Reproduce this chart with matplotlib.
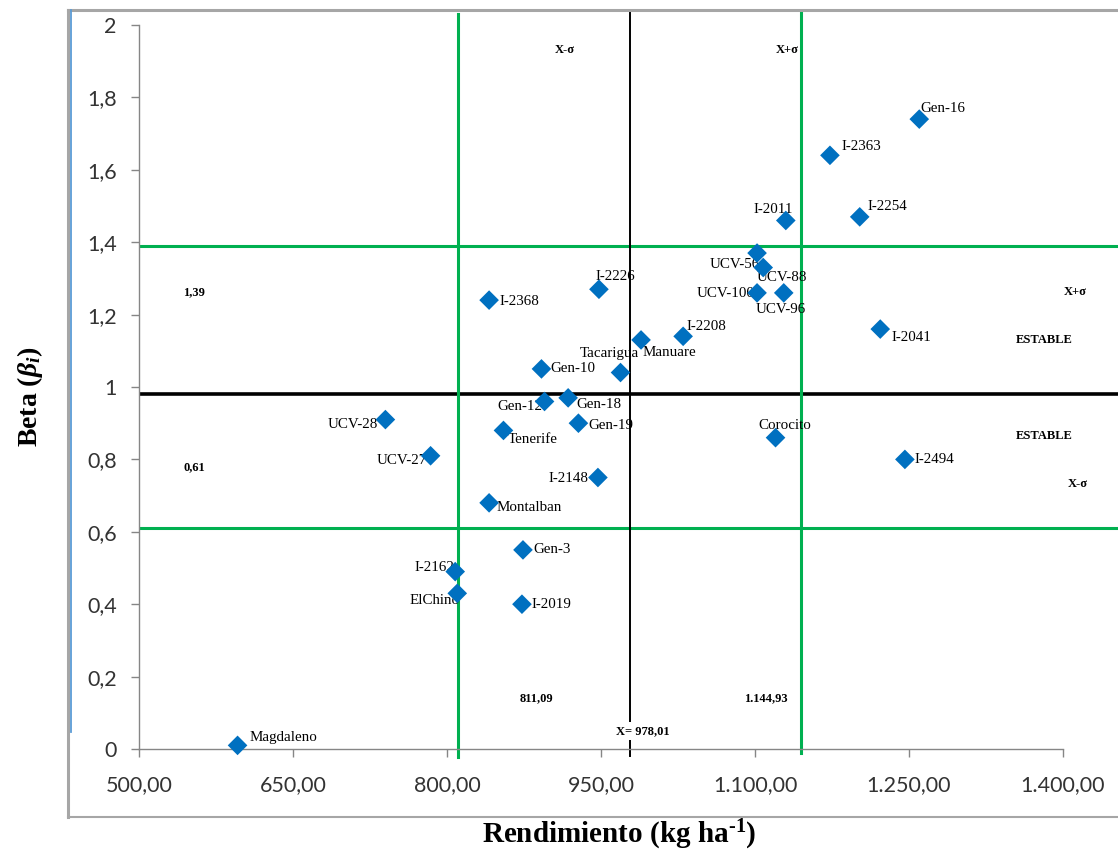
import numpy as np
import matplotlib
matplotlib.use('Agg')
import matplotlib.pyplot as plt
from matplotlib.lines import Line2D

# genotipos: rendimiento medio (kg/ha) y coeficiente de regresion beta
genotipos = ['Magdaleno', 'I-2162', 'ElChino', 'I-2019', 'Gen-3', 'Montalban',
             'UCV-27', 'UCV-28', 'Tenerife', 'Gen-12', 'Gen-18', 'Gen-19',
             'I-2148', 'Gen-10', 'Tacarigua', 'Manuare', 'I-2208', 'I-2226',
             'I-2368', 'UCV-56', 'UCV-88', 'UCV-100', 'UCV-96', 'I-2011',
             'I-2363', 'I-2254', 'Gen-16', 'I-2041', 'Corocito', 'I-2494']
rendimiento = [596, 808, 810, 873, 874, 841,
               784, 740, 855, 895, 918, 928,
               947, 892, 969, 989, 1030, 948,
               841, 1102, 1108, 1102, 1128, 1130,
               1173, 1202, 1260, 1222, 1120, 1246]
beta = [0.01, 0.49, 0.43, 0.40, 0.55, 0.68,
        0.81, 0.91, 0.88, 0.96, 0.97, 0.90,
        0.75, 1.05, 1.04, 1.13, 1.14, 1.27,
        1.24, 1.37, 1.33, 1.26, 1.26, 1.46,
        1.64, 1.47, 1.74, 1.16, 0.86, 0.80]

# limites de los cuadrantes
x_media = 978.01
x_menos_sd = 811.09
x_mas_sd = 1144.93
beta_media = 0.98
beta_sup = 1.39
beta_inf = 0.61

xticks = [500, 650, 800, 950, 1100, 1250, 1400]
xtick_labels = ['500,00', '650,00', '800,00', '950,00', '1.100,00', '1.250,00', '1.400,00']
yticks = [0, 0.2, 0.4, 0.6, 0.8, 1.0, 1.2, 1.4, 1.6, 1.8, 2.0]
ytick_labels = ['0', '0,2', '0,4', '0,6', '0,8', '1', '1,2', '1,4', '1,6', '1,8', '2']

# desplazamiento de cada etiqueta (pixeles) y alineacion
pos_etiqueta = {
    'Gen-16': (1, 11, 'left'), 'I-2363': (12, 9, 'left'), 'I-2254': (8, 10, 'left'),
    'I-2011': (-13, 11, 'center'), 'UCV-56': (3, -11, 'right'), 'UCV-88': (-7, -10, 'left'),
    'UCV-100': (-3, -1, 'right'), 'UCV-96': (-28, -17, 'left'), 'I-2226': (-3, 13, 'left'),
    'I-2368': (10, -1, 'left'), 'I-2208': (3, 10, 'left'), 'Tacarigua': (-11, 19, 'center'),
    'Manuare': (1, -13, 'left'), 'Gen-10': (9, 0, 'left'), 'Gen-12': (-2, -5, 'right'),
    'Gen-18': (8, -7, 'left'), 'Gen-19': (10, -2, 'left'), 'Tenerife': (4, -9, 'left'),
    'UCV-28': (-7, -5, 'right'), 'UCV-27': (-4, -5, 'right'), 'I-2148': (-9, -1, 'right'),
    'Montalban': (7, -5, 'left'), 'Gen-3': (10, 0, 'left'), 'I-2162': (-1, 4, 'right'),
    'ElChino': (2, -7, 'right'), 'I-2019': (10, 0, 'left'), 'Magdaleno': (12, 8, 'left'),
    'I-2041': (11, -8, 'left'), 'Corocito': (9, 12, 'center'), 'I-2494': (10, 0, 'left'),
}

plt.rcParams['mathtext.fontset'] = 'custom'
plt.rcParams['mathtext.rm'] = 'Liberation Serif:bold'
plt.rcParams['mathtext.bf'] = 'Liberation Serif:bold'
plt.rcParams['mathtext.it'] = 'Liberation Serif:bold:italic'

verde = '#00B050'
azul = '#0070C0'
gris = '#868686'
serif = 'Liberation Serif'

W, H = 1118, 856
fig = plt.figure(figsize=(W/100, H/100), dpi=100)
ax = fig.add_axes([139/W, 1-749/H, (1063-139)/W, (749-25)/H])

# marco del grafico
fig.add_artist(Line2D([68/W, 68/W], [1-10/H, 1-817/H], color='#A6A6A6', lw=2.2))
fig.add_artist(Line2D([68/W, 1.0], [1-10/H, 1-10/H], color='#A6A6A6', lw=2.2))
fig.add_artist(Line2D([68/W, 1.0], [1-817/H, 1-817/H], color='#A6A6A6', lw=1.5))
fig.add_artist(Line2D([70.5/W, 70.5/W], [1-10/H, 1-732/H], color='#5B9BD5', lw=1.3))

# lineas de los cuadrantes
ax.plot([502, 1460], [beta_sup, beta_sup], color=verde, lw=2.2, clip_on=False, zorder=2)
ax.plot([502, 1460], [beta_inf, beta_inf], color=verde, lw=2.2, clip_on=False, zorder=2)
ax.plot([502, 1460], [beta_media, beta_media], color='black', lw=2.6, clip_on=False, zorder=2)
ax.plot([x_menos_sd, x_menos_sd], [2.03, -0.022], color=verde, lw=2.2, clip_on=False, zorder=2)
ax.plot([x_mas_sd, x_mas_sd], [2.04, -0.01], color=verde, lw=2.2, clip_on=False, zorder=2)
ax.plot([x_media, x_media], [2.04, -0.02], color='black', lw=1.4, clip_on=False, zorder=2)

ax.scatter(rendimiento, beta, marker='D', s=100, color=azul, edgecolors='none',
           zorder=4, clip_on=False)

for g, x, y in zip(genotipos, rendimiento, beta):
    dx, dy, ha = pos_etiqueta[g]
    ax.annotate(g, (x, y), xytext=(dx, dy), textcoords='offset pixels',
                ha=ha, va='center', fontsize=10.8, family=serif, zorder=3)

# textos de los cuadrantes
notas = [('X-\u03c3', 915, 1.93), ('X+\u03c3', 1131, 1.93),
         ('1,39', 554, 1.262), ('0,61', 554, 0.779),
         ('X+\u03c3', 1412, 1.262), ('ESTABLE', 1382, 1.13),
         ('ESTABLE', 1382, 0.865), ('X-\u03c3', 1414, 0.732),
         ('811,09', 887, 0.141), ('1.144,93', 1111, 0.141)]
for t, x, y in notas:
    ax.text(x, y, t, ha='center', va='center', fontsize=9, family=serif,
            fontweight='bold', zorder=5)
ax.text(991, 0.05, 'X= 978,01', ha='center', va='center', fontsize=9, family=serif,
        fontweight='bold', zorder=5,
        bbox=dict(facecolor='white', edgecolor='none', pad=2))

ax.set_xlim(500, 1400)
ax.set_ylim(0, 2)
ax.set_xticks(xticks)
ax.set_xticklabels(xtick_labels)
ax.set_yticks(yticks)
ax.set_yticklabels(ytick_labels)
for s in ['top', 'right']:
    ax.spines[s].set_visible(False)
for s in ['left', 'bottom']:
    ax.spines[s].set_color(gris)
    ax.spines[s].set_linewidth(1.0)
ax.tick_params(axis='both', direction='out', length=6, width=1.0, color=gris,
               labelsize=15.5, labelcolor='#333333')
ax.tick_params(axis='x', pad=13)
ax.tick_params(axis='y', pad=10)
for lab in ax.get_xticklabels() + ax.get_yticklabels():
    lab.set_family('Lato')

fig.text(30/W, 1-397/H, r'Beta ($\beta_i$)', rotation=90, ha='center', va='center',
         fontsize=20, family=serif, fontweight='bold')
fig.text(619/W, 1-835/H, 'Rendimiento (kg ha$^{\\mathbf{\u20101}}$)', ha='center', va='center',
         fontsize=21, family=serif, fontweight='bold')

fig.savefig('out.png', dpi=100)
